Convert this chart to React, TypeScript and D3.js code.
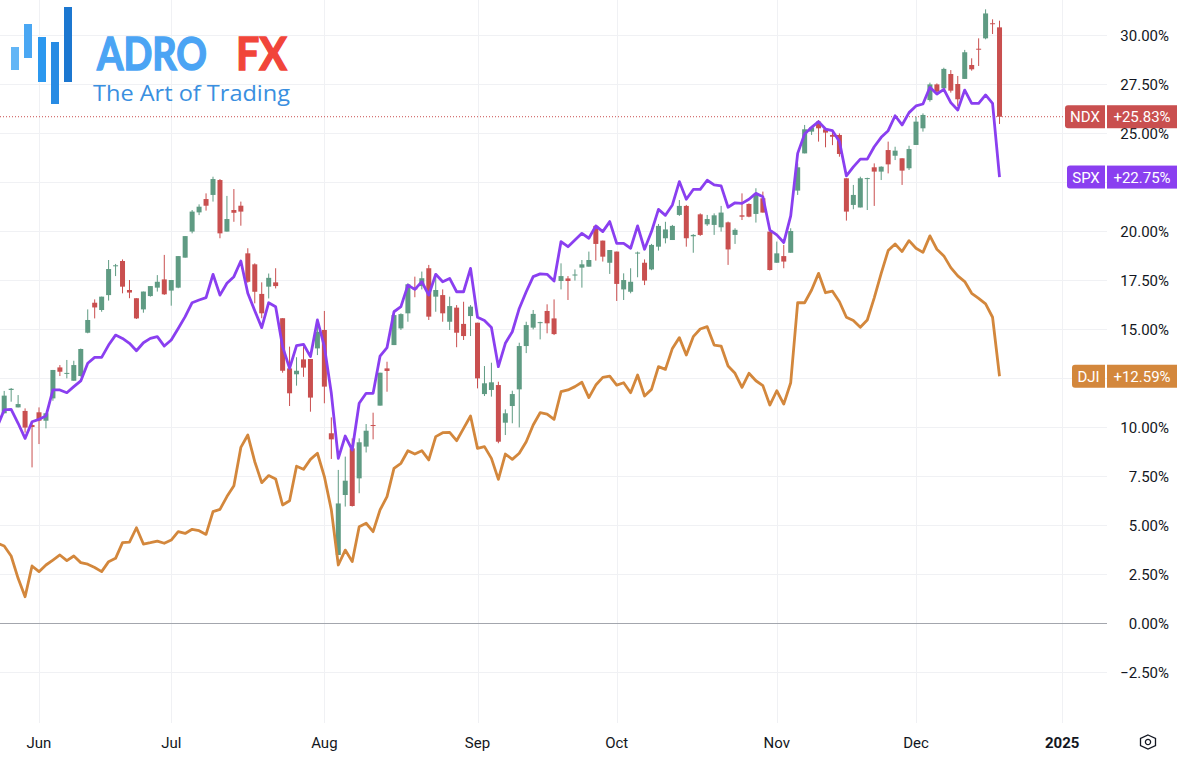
import React from "react";
import * as d3 from "d3";

// trading calendar (NYSE holidays in the window)
const holidays = ["2024-05-27", "2024-06-19", "2024-07-04", "2024-09-02", "2024-11-28", "2024-12-25", "2025-01-01"];
const fmt = d3.timeFormat("%Y-%m-%d");
const tradingDays = d3.timeDay
  .range(new Date(2024, 4, 23), new Date(2025, 0, 3))
  .filter((d) => d.getDay() !== 0 && d.getDay() !== 6 && !holidays.includes(fmt(d)))
  .map(fmt);

const monthTicks: [string, string][] = [
  ["2024-06-03", "Jun"],
  ["2024-07-01", "Jul"],
  ["2024-08-01", "Aug"],
  ["2024-09-03", "Sep"],
  ["2024-10-01", "Oct"],
  ["2024-11-01", "Nov"],
  ["2024-12-02", "Dec"],
  ["2025-01-02", "2025"],
];

const yTicks = [-2.5, 0, 2.5, 5, 7.5, 10, 12.5, 15, 17.5, 20, 22.5, 25, 27.5, 30];

// NDX % change candles [open, high, low, close], from 2024-05-24 to 2024-12-18
const ndx: [number, number, number, number][] = [
  [10.7, 11.84, 10.7, 11.6], [11.89, 11.99, 11.29, 11.95], [11.0, 11.63, 11.0, 11.17], [10.82, 10.95, 9.71, 9.97],
  [10.1, 10.27, 7.94, 10.0], [10.75, 11.0, 9.13, 10.32], [10.32, 10.7, 9.93, 10.7], [11.46, 12.91, 11.34, 12.91],
  [13.04, 13.16, 12.6, 12.82], [12.74, 13.42, 12.48, 12.76], [12.36, 13.38, 12.36, 13.16], [12.6, 14.0, 12.57, 13.98],
  [14.81, 16.0, 14.78, 15.46], [16.34, 16.51, 15.54, 16.1], [15.97, 16.65, 15.88, 16.65], [16.73, 18.52, 16.45, 18.06],
  [18.2, 18.32, 17.7, 18.25], [18.47, 18.55, 16.82, 17.16], [16.99, 17.5, 16.57, 16.86], [16.57, 16.57, 15.51, 15.54],
  [16.0, 16.91, 15.83, 16.91], [16.68, 17.19, 16.65, 17.19], [17.11, 17.75, 16.91, 17.41], [17.53, 18.78, 16.74, 16.77],
  [16.96, 17.5, 16.19, 17.5], [17.11, 18.72, 17.08, 18.72], [18.64, 19.74, 18.64, 19.74], [19.97, 21.07, 19.88, 20.99],
  [20.95, 21.36, 20.81, 21.24], [21.63, 21.92, 21.04, 21.29], [21.84, 22.77, 21.5, 22.65], [22.6, 22.65, 19.63, 19.88],
  [19.97, 21.79, 19.97, 20.61], [21.07, 22.14, 20.47, 20.93], [21.29, 21.5, 20.27, 20.99], [18.86, 19.12, 17.36, 17.41],
  [18.3, 18.35, 16.31, 16.9], [16.79, 17.38, 15.55, 15.8], [17.16, 17.83, 16.56, 17.61], [17.38, 18.1, 17.07, 17.19],
  [15.55, 15.55, 12.77, 12.87], [12.99, 14.1, 11.07, 11.72], [12.69, 13.56, 12.11, 12.87], [13.45, 14.12, 12.56, 13.03],
  [13.47, 13.47, 10.78, 11.5], [14.01, 15.29, 13.67, 14.86], [14.95, 15.92, 11.21, 12.06], [9.68, 10.49, 8.37, 9.37],
  [3.47, 7.81, 3.47, 6.1], [6.53, 8.49, 5.94, 7.26], [8.91, 9.42, 5.94, 5.97], [7.38, 9.42, 6.62, 9.22],
  [9.0, 10.15, 8.7, 9.81], [10.1, 10.73, 9.37, 10.05], [11.09, 12.77, 11.09, 12.77], [12.99, 13.33, 11.8, 12.86],
  [14.18, 15.93, 14.18, 15.71], [15.03, 15.8, 14.95, 15.76], [15.8, 17.33, 15.37, 17.28], [17.11, 17.67, 16.62, 17.02],
  [17.19, 17.93, 17.02, 17.59], [18.1, 18.27, 15.46, 15.63], [16.65, 17.84, 15.88, 16.99], [16.73, 17.02, 15.37, 15.8],
  [15.37, 16.65, 14.95, 16.17], [16.09, 16.22, 14.07, 14.81], [15.26, 16.39, 14.44, 14.64], [15.66, 16.22, 14.64, 16.14],
  [15.32, 15.32, 11.97, 12.48], [11.68, 13.11, 11.58, 12.23], [11.89, 13.28, 11.55, 12.28], [12.14, 12.31, 9.17, 9.25],
  [10.22, 10.9, 9.59, 10.7], [11.07, 11.85, 10.19, 11.68], [11.92, 14.3, 9.98, 14.13], [14.13, 15.37, 13.77, 15.2],
  [15.07, 15.97, 14.98, 15.77], [15.3, 15.37, 14.47, 15.35], [15.92, 16.26, 14.78, 15.29], [15.54, 16.51, 14.69, 14.74],
  [17.45, 18.35, 17.02, 17.7], [17.58, 17.7, 16.48, 17.45], [17.73, 18.04, 17.47, 17.78], [18.13, 18.52, 17.11, 18.3],
  [18.18, 18.95, 18.18, 18.52], [20.26, 20.31, 18.49, 19.34], [19.51, 19.51, 18.44, 18.69], [18.38, 19.03, 17.81, 19.03],
  [18.95, 18.95, 16.43, 17.3], [17.02, 17.84, 16.48, 17.5], [16.9, 18.1, 16.82, 17.41], [18.85, 18.95, 17.64, 18.9],
  [18.38, 18.55, 17.24, 17.47], [18.04, 19.34, 18.0, 19.29], [19.2, 20.36, 19.0, 20.26], [19.63, 20.47, 19.37, 20.08],
  [19.54, 20.31, 19.54, 20.26], [20.82, 21.58, 20.77, 21.28], [21.28, 21.33, 19.2, 19.63], [19.73, 19.84, 18.89, 19.8],
  [20.85, 20.9, 19.75, 19.8], [20.34, 20.82, 20.26, 20.61], [20.31, 20.9, 19.8, 20.8], [20.19, 21.28, 19.97, 20.94],
  [20.44, 20.48, 18.27, 19.06], [19.8, 20.14, 19.34, 20.06], [20.8, 21.92, 20.56, 20.73], [21.38, 21.41, 20.7, 20.73],
  [20.87, 22.18, 20.43, 21.89], [21.67, 22.01, 20.94, 20.94], [19.97, 19.97, 17.98, 18.01], [18.38, 19.46, 18.38, 18.86],
  [18.72, 19.29, 18.1, 18.44], [18.89, 20.14, 18.89, 20.0], [22.06, 23.45, 21.84, 23.25], [23.96, 25.41, 23.96, 25.19],
  [25.07, 25.36, 24.9, 25.29], [25.58, 25.66, 24.56, 25.24], [25.19, 25.19, 24.27, 25.02], [24.9, 25.07, 24.38, 24.81],
  [24.9, 24.98, 23.79, 23.93], [22.69, 22.69, 20.53, 20.99], [21.33, 22.35, 21.11, 21.84], [21.2, 22.77, 21.2, 22.69],
  [22.65, 22.72, 21.07, 22.7], [23.25, 23.45, 21.28, 23.03], [23.03, 23.3, 22.6, 23.28], [24.13, 24.56, 22.94, 23.4],
  [23.84, 24.3, 23.62, 24.1], [23.71, 23.71, 22.35, 23.08], [23.2, 24.35, 23.11, 24.18], [24.39, 25.83, 24.39, 25.58],
  [25.24, 26.0, 25.07, 25.92], [26.68, 27.57, 26.6, 27.48], [27.48, 27.53, 26.94, 27.11], [27.28, 28.33, 27.28, 28.27],
  [28.01, 28.21, 27.06, 27.16], [27.5, 27.91, 26.38, 26.72], [27.76, 29.24, 27.76, 29.12], [28.47, 28.81, 28.18, 28.25],
  [29.3, 29.83, 28.42, 29.25], [29.83, 31.31, 29.78, 31.1], [30.6, 30.8, 30.05, 30.55], [30.39, 30.73, 25.46, 25.83],
];

// SPX % change, from 2024-05-23 to 2024-12-18
const spx = [
  10.02, 10.87, 10.9, 10.19, 9.42, 10.27, 10.39, 10.56, 11.89, 11.89, 11.75, 12.06, 12.35, 13.25, 13.55, 13.55,
  14.18, 14.69, 14.52, 14.27, 13.89, 14.3, 14.52, 14.61, 14.13, 14.44, 15.03, 15.63, 16.34, 16.48, 16.6, 17.79,
  16.73, 17.33, 17.67, 18.47, 16.82, 15.93, 15.07, 16.34, 16.14, 14.1, 12.99, 14.15, 14.22, 13.59, 15.46, 14.1,
  11.72, 8.4, 9.54, 8.83, 11.21, 11.72, 11.72, 13.62, 14.05, 15.88, 16.14, 17.24, 17.02, 17.41, 16.73, 17.79,
  17.41, 17.58, 16.9, 16.9, 18.09, 15.6, 15.43, 15.08, 13.08, 14.27, 14.86, 16.05, 16.9, 17.67, 17.81, 17.79,
  17.45, 19.46, 19.2, 19.54, 19.88, 19.63, 20.26, 19.97, 20.48, 19.37, 19.37, 19.12, 20.26, 19.07, 19.97, 21.1,
  20.8, 21.33, 22.52, 21.62, 22.12, 22.12, 22.59, 22.35, 22.3, 21.21, 21.44, 21.41, 21.62, 21.92, 21.75, 20.05,
  19.8, 19.41, 20.77, 23.96, 24.95, 25.29, 25.58, 25.2, 25.12, 24.56, 22.81, 23.27, 23.67, 23.67, 24.3, 24.78,
  25.12, 25.88, 25.41, 26.04, 26.38, 26.48, 27.33, 26.99, 27.23, 26.55, 26.17, 27.19, 26.51, 26.51, 26.94, 26.51,
  22.75,
];

// DJI % change, from 2024-05-23 to 2024-12-18
const dji = [
  4.07, 3.93, 3.42, 2.28, 1.34, 2.91, 2.62, 2.96, 3.21, 3.47, 3.18, 3.42, 3.08, 3.0, 2.83, 2.62,
  3.13, 3.3, 4.1, 4.13, 4.86, 4.03, 4.1, 4.18, 4.07, 4.23, 4.66, 4.57, 4.78, 4.71, 4.52, 5.68,
  5.8, 6.45, 7.0, 8.96, 9.59, 8.23, 7.16, 7.52, 7.35, 6.02, 6.24, 8.0, 7.84, 8.35, 8.66, 7.47,
  5.77, 2.96, 3.72, 3.13, 4.91, 5.09, 4.66, 5.77, 6.45, 7.89, 8.15, 8.79, 8.62, 8.79, 8.32, 9.51,
  9.71, 9.73, 9.3, 9.93, 10.56, 8.91, 9.0, 8.4, 7.33, 8.62, 8.35, 8.66, 9.25, 10.1, 10.73, 10.66,
  10.39, 11.8, 11.89, 12.06, 12.28, 11.5, 12.14, 12.53, 12.6, 12.14, 12.26, 11.75, 12.65, 11.58, 11.92, 13.08,
  12.94, 14.01, 14.56, 13.67, 14.61, 15.0, 15.12, 14.18, 14.13, 13.11, 12.74, 12.02, 12.74, 12.36, 12.11, 11.12,
  11.85, 11.17, 12.26, 16.34, 16.34, 16.99, 17.84, 16.85, 16.93, 16.39, 15.6, 15.43, 15.09, 15.46, 16.59, 17.84,
  19.0, 19.34, 18.95, 19.51, 19.12, 18.91, 19.75, 19.07, 18.73, 18.13, 17.71, 17.42, 16.82, 16.56, 16.28, 15.6,
  12.59,
];

const W = 1182;
const H = 760;
const plotRight = 1107;
const plotBottom = 723;

const UP = "#5f9b83";
const DOWN = "#c94f4f";
const SPX_C = "#8a3ff0";
const DJI_C = "#d3873c";
const TEXT = "#131722";
const FONT = "Roboto, 'DejaVu Sans', sans-serif";

const x = d3.scaleLinear().domain([6, 132]).range([39, 916]);
const y = d3.scaleLinear().domain([0, 30]).range([623, 35]);

const fmtPct = (v: number) => (v < 0 ? "\u2212" : "") + Math.abs(v).toFixed(2) + "%";
const fmtChg = (v: number) => (v >= 0 ? "+" : "\u2212") + Math.abs(v).toFixed(2) + "%";

const lineGen = d3
  .line<number>()
  .x((_, i) => x(i))
  .y((d) => y(d));

const Logo = () => {
  const bars = [
    { x: 11, y0: 47, y1: 70, c: "#62b5f6" },
    { x: 24, y0: 24, y1: 58, c: "#4aa7f3" },
    { x: 38, y0: 37, y1: 82, c: "#2b98ef" },
    { x: 51, y0: 42, y1: 104, c: "#278be4" },
    { x: 64, y0: 7, y1: 82, c: "#1c77d0" },
  ];
  const brand = { fontFamily: "Lato, 'Open Sans', sans-serif", fontWeight: 700, fontSize: 45, strokeWidth: 1.4 };
  return (
    <g>
      {bars.map((b, i) => (
        <rect key={i} x={b.x} y={b.y0} width={8} height={b.y1 - b.y0} fill={b.c} />
      ))}
      <text x={97} y={70} {...brand} fill="#4ba4f4" stroke="#4ba4f4" textLength={110} lengthAdjust="spacingAndGlyphs">
        ADRO
      </text>
      <text x={236} y={70} {...brand} fill="#f1453a" stroke="#f1453a" textLength={51} lengthAdjust="spacingAndGlyphs">
        FX
      </text>
      <text x={93} y={101} fontFamily="'Open Sans', Lato, sans-serif" fontWeight={400} fontSize={22} fill="#3a8fe0" textLength={197} lengthAdjust="spacingAndGlyphs">
        The Art of Trading
      </text>
    </g>
  );
};

const SeriesLabel = ({ name, value, color, nameX }: { name: string; value: number; color: string; nameX: number }) => {
  const cy = y(value);
  return (
    <g fontFamily={FONT} fontSize={15} fill="#fff">
      <path
        d={`M${nameX + 3},${cy - 11.5} H1105 V${cy + 11.5} H${nameX + 3} Q${nameX},${cy + 11.5} ${nameX},${cy + 8.5} V${cy - 8.5} Q${nameX},${cy - 11.5} ${nameX + 3},${cy - 11.5} Z`}
        fill={color}
      />
      <rect x={1107} y={cy - 11.5} width={70} height={23} fill={color} />
      <text x={(nameX + 1105) / 2} y={cy + 5.5} textAnchor="middle">
        {name}
      </text>
      <text x={1142} y={cy + 5.5} textAnchor="middle">
        {fmtChg(value)}
      </text>
    </g>
  );
};

export default function App() {
  const last = ndx[ndx.length - 1][3];
  const labelValues = [last, spx[spx.length - 1], dji[dji.length - 1]];
  // the price scale hides tick labels covered by the series labels
  const visibleTicks = yTicks.filter((t) => labelValues.every((v) => Math.abs(y(t) - y(v)) > 15));
  const bodyW = 5;
  return (
    <div style={{ position: "fixed", left: 0, top: 0, width: W, height: H, background: "#fff" }}>
      <svg width={W} height={H} style={{ display: "block" }}>
        <defs>
          <clipPath id="plot">
            <rect x={0} y={0} width={plotRight} height={plotBottom} />
          </clipPath>
        </defs>
        <rect width={W} height={H} fill="#fff" />

        {/* grid */}
        <g stroke="#f0f1f4" strokeWidth={1}>
          {yTicks.map((t) => (
            <line key={t} x1={0} x2={plotRight} y1={Math.round(y(t)) + 0.5} y2={Math.round(y(t)) + 0.5} />
          ))}
          {monthTicks.map(([d]) => {
            const xx = Math.round(x(tradingDays.indexOf(d))) + 0.5;
            return <line key={d} x1={xx} x2={xx} y1={0} y2={plotBottom} />;
          })}
        </g>
        <line x1={0} x2={plotRight} y1={Math.round(y(0)) + 0.5} y2={Math.round(y(0)) + 0.5} stroke="#a3a6ad" strokeWidth={1} />

        <Logo />

        <g clipPath="url(#plot)">
          {/* last price line of NDX */}
          <line x1={0} x2={1065} y1={y(last)} y2={y(last)} stroke={DOWN} strokeWidth={1} strokeDasharray="1 2" />

          {ndx.map(([o, h, l, c], i) => {
            const cx = x(i + 1);
            const col = c >= o ? UP : DOWN;
            const top = y(Math.max(o, c));
            const bh = Math.max(1, Math.abs(y(o) - y(c)));
            return (
              <g key={i}>
                <line x1={cx} x2={cx} y1={y(h)} y2={y(l)} stroke={col} strokeWidth={1} />
                <rect x={cx - bodyW / 2} y={top} width={bodyW} height={bh} fill={col} />
              </g>
            );
          })}

          <path d={lineGen(dji) || ""} fill="none" stroke={DJI_C} strokeWidth={2.8} strokeLinejoin="round" />
          <path d={lineGen(spx) || ""} fill="none" stroke={SPX_C} strokeWidth={2.8} strokeLinejoin="round" />
        </g>

        {/* price scale */}
        <g fontFamily={FONT} fontSize={15} fill={TEXT} textAnchor="end">
          {visibleTicks.map((t) => (
            <text key={t} x={1169} y={y(t) + 5.5}>
              {fmtPct(t)}
            </text>
          ))}
        </g>

        <SeriesLabel name="NDX" value={last} color={DOWN} nameX={1065} />
        <SeriesLabel name="SPX" value={spx[spx.length - 1]} color={SPX_C} nameX={1067} />
        <SeriesLabel name="DJI" value={dji[dji.length - 1]} color={DJI_C} nameX={1072} />

        {/* time scale */}
        <g fontFamily={FONT} fontSize={15} fill={TEXT} textAnchor="middle">
          {monthTicks.map(([d, label]) => (
            <text key={d} x={x(tradingDays.indexOf(d))} y={748} fontWeight={label === "2025" ? 700 : 400}>
              {label}
            </text>
          ))}
        </g>

        {/* settings glyph */}
        <g transform="translate(1148,742)" fill="none" stroke={TEXT} strokeWidth={1.3}>
          <polygon points="-7,0 -3.5,-7.5 3.5,-7.5 7,0 3.5,7.5 -3.5,7.5" transform="rotate(90)" />
          <circle r={2.6} />
        </g>
      </svg>
    </div>
  );
}
